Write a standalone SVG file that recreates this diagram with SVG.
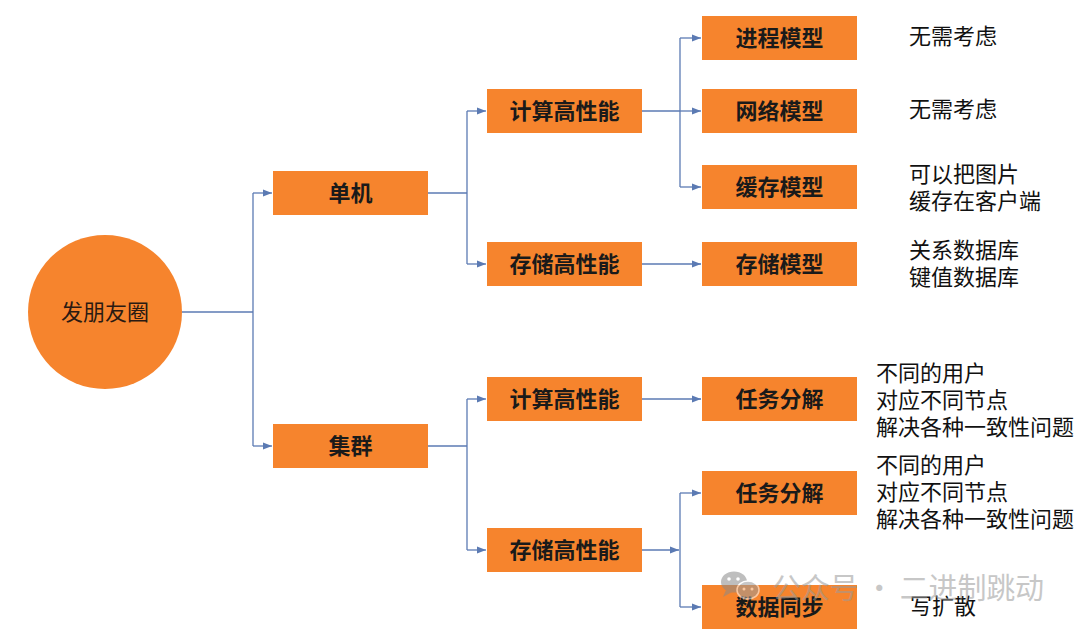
<svg xmlns="http://www.w3.org/2000/svg" width="1080" height="633" viewBox="0 0 1080 633">
<defs>
<style>
.box{fill:#F6842D;}
.bt{font-family:"Noto Sans CJK SC","Noto Sans",sans-serif;font-size:22px;font-weight:bold;fill:#1a1a1a;text-anchor:middle;}
.nt{font-family:"Noto Sans CJK SC","Noto Sans",sans-serif;font-size:22px;fill:#111;}
.ln{fill:none;stroke:#5b7ab3;stroke-width:1.3;}
.ar{marker-end:url(#ah);}
</style>
<marker id="ah" markerUnits="userSpaceOnUse" markerWidth="10" markerHeight="8" refX="9" refY="4" orient="auto">
<path d="M0,0.5 L9,4 L0,7.5 Z" fill="#5b7ab3"/>
</marker>
</defs>
<rect width="1080" height="633" fill="#ffffff"/>

<g id="connectors">
<path class="ln" d="M182,312 H253"/>
<path class="ln" d="M253,193 V446"/>
<path class="ln ar" d="M253,193 H272"/>
<path class="ln ar" d="M253,446 H272"/>

<path class="ln" d="M428,193 H467"/>
<path class="ln" d="M467,111 V264"/>
<path class="ln ar" d="M467,111 H486"/>
<path class="ln ar" d="M467,264 H486"/>

<path class="ln" d="M642,111 H680"/>
<path class="ln" d="M680,38 V187"/>
<path class="ln ar" d="M680,38 H701"/>
<path class="ln ar" d="M680,111 H701"/>
<path class="ln ar" d="M680,187 H701"/>
<path class="ln ar" d="M642,264 H701"/>

<path class="ln" d="M428,446 H467"/>
<path class="ln" d="M467,399 V550"/>
<path class="ln ar" d="M467,399 H486"/>
<path class="ln ar" d="M467,550 H486"/>

<path class="ln ar" d="M642,399 H701"/>
<path class="ln ar" d="M642,550 H679"/>
<path class="ln" d="M680,493 V607"/>
<path class="ln ar" d="M680,493 H701"/>
<path class="ln ar" d="M680,607 H701"/>
</g>

<g id="root">
<circle cx="105" cy="312" r="77" fill="#F6842D"/>
<text x="105" y="320" class="nt" text-anchor="middle" style="fill:#2a1a12">发朋友圈</text>
</g>

<g id="n-danji"><rect class="box" x="273" y="171" width="155" height="44"/><text class="bt" x="350.5" y="201">单机</text></g>
<g id="n-jiqun"><rect class="box" x="273" y="424" width="155" height="44"/><text class="bt" x="350.5" y="454">集群</text></g>

<g id="n-calc1"><rect class="box" x="487" y="89" width="155" height="44"/><text class="bt" x="564.5" y="119">计算高性能</text></g>
<g id="n-store1"><rect class="box" x="487" y="242" width="155" height="44"/><text class="bt" x="564.5" y="272">存储高性能</text></g>
<g id="n-calc2"><rect class="box" x="487" y="377" width="155" height="44"/><text class="bt" x="564.5" y="407">计算高性能</text></g>
<g id="n-store2"><rect class="box" x="487" y="528" width="155" height="44"/><text class="bt" x="564.5" y="558">存储高性能</text></g>

<g id="n-process"><rect class="box" x="702" y="16" width="155" height="44"/><text class="bt" x="779.5" y="46">进程模型</text></g>
<g id="n-network"><rect class="box" x="702" y="89" width="155" height="44"/><text class="bt" x="779.5" y="119">网络模型</text></g>
<g id="n-cache"><rect class="box" x="702" y="165" width="155" height="44"/><text class="bt" x="779.5" y="195">缓存模型</text></g>
<g id="n-storage"><rect class="box" x="702" y="242" width="155" height="44"/><text class="bt" x="779.5" y="272">存储模型</text></g>
<g id="n-task1"><rect class="box" x="702" y="377" width="155" height="44"/><text class="bt" x="779.5" y="407">任务分解</text></g>
<g id="n-task2"><rect class="box" x="702" y="471" width="155" height="44"/><text class="bt" x="779.5" y="501">任务分解</text></g>
<g id="n-sync"><rect class="box" x="702" y="585" width="155" height="44"/><text class="bt" x="779.5" y="615">数据同步</text></g>

<g id="notes">
<text class="nt" x="909" y="44">无需考虑</text>
<text class="nt" x="909" y="117">无需考虑</text>
<text class="nt" x="909" y="182">可以把图片</text>
<text class="nt" x="909" y="209">缓存在客户端</text>
<text class="nt" x="909" y="258">关系数据库</text>
<text class="nt" x="909" y="285">键值数据库</text>
<text class="nt" x="876" y="381">不同的用户</text>
<text class="nt" x="876" y="408">对应不同节点</text>
<text class="nt" x="876" y="435">解决各种一致性问题</text>
<text class="nt" x="876" y="473">不同的用户</text>
<text class="nt" x="876" y="500">对应不同节点</text>
<text class="nt" x="876" y="527">解决各种一致性问题</text>
<text class="nt" x="910" y="614">写扩散</text>
</g>

<g id="watermark" opacity="0.55">
<ellipse cx="734" cy="582" rx="13" ry="10.5" fill="#8a8a8a"/>
<path d="M726,590 L723,597 L732,592 Z" fill="#8a8a8a"/>
<ellipse cx="748" cy="590" rx="11" ry="9" fill="#9a9a9a" stroke="#ffffff" stroke-width="1.5"/>
<circle cx="729" cy="579" r="1.8" fill="#fff"/>
<circle cx="738" cy="579" r="1.8" fill="#fff"/>
<circle cx="744" cy="589" r="1.5" fill="#fff"/>
<circle cx="752" cy="589" r="1.5" fill="#fff"/>
<text x="772" y="599" font-family="Noto Sans CJK SC,sans-serif" font-size="29" fill="#9a9a9a" textLength="272" lengthAdjust="spacing">公众号 · 二进制跳动</text>
</g>
</svg>
